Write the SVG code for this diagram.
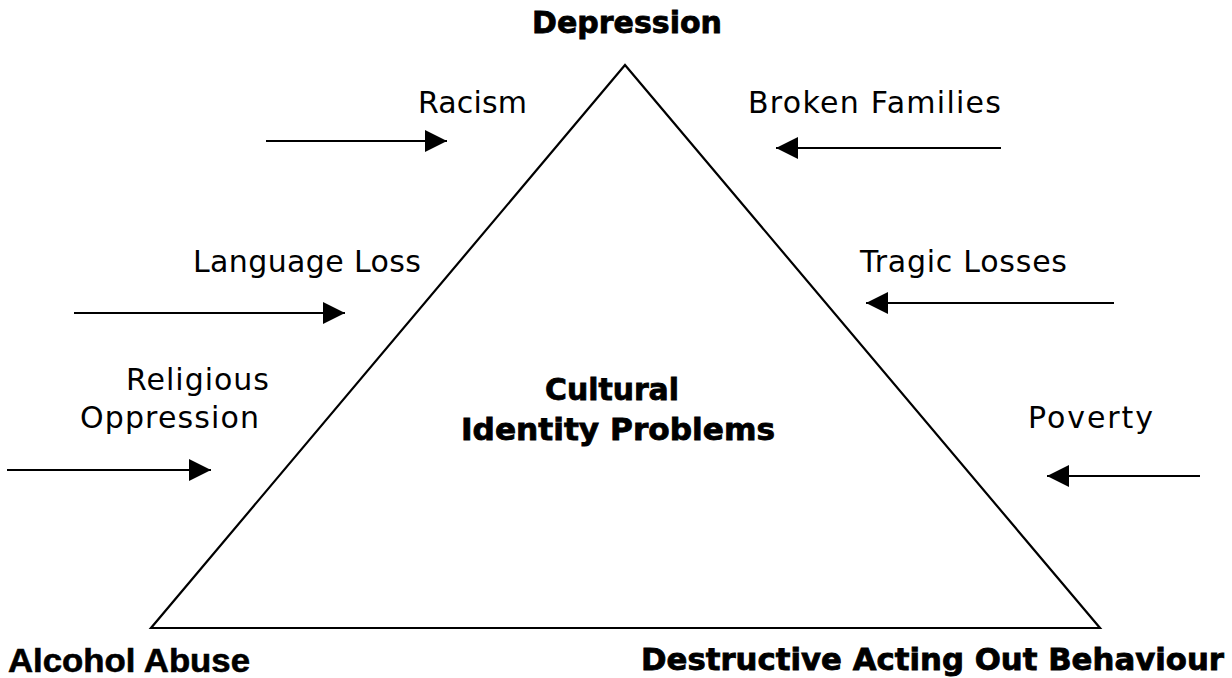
<svg xmlns="http://www.w3.org/2000/svg" width="1232" height="678" viewBox="0 0 1232 678">
  <style>
    .lbl { font-family: "DejaVu Sans", Verdana, sans-serif; font-size: 30px; fill: #000; }
    .head { font-family: "DejaVu Sans", Verdana, sans-serif; font-size: 30px; font-weight: bold; fill: #000; stroke: #000; stroke-width: 0.8; }
    .head2 { font-family: "Liberation Sans", Arial, sans-serif; font-size: 34px; font-weight: bold; fill: #000; stroke: #000; stroke-width: 0.6; }
    .edge { stroke: #000; stroke-width: 2; fill: none; }
  </style>
  <defs>
    <marker id="arrow" markerUnits="userSpaceOnUse" markerWidth="24" markerHeight="24" viewBox="0 0 24 24" refX="22" refY="12" orient="auto">
      <path d="M0,1 L22,12 L0,23 Z" fill="#000"/>
    </marker>
  </defs>

  <rect width="1232" height="678" fill="#fff"/>

  <!-- central triangle -->
  <g id="triangle">
    <polygon points="625,65 151,628 1100,628" fill="none" stroke="#000" stroke-width="2.2"/>
    <text class="head" x="545" y="400" textLength="134" lengthAdjust="spacingAndGlyphs">Cultural</text>
    <text class="head" x="461" y="440" font-size="31" textLength="314" lengthAdjust="spacingAndGlyphs">Identity Problems</text>
  </g>

  <!-- corners -->
  <g id="depression"><text class="head" x="532" y="33" textLength="190" lengthAdjust="spacingAndGlyphs">Depression</text></g>
  <g id="alcohol-abuse"><text class="head2" x="8" y="672" textLength="242" lengthAdjust="spacingAndGlyphs">Alcohol Abuse</text></g>
  <g id="destructive"><text class="head" x="641" y="670" font-size="31" textLength="583" lengthAdjust="spacingAndGlyphs">Destructive Acting Out Behaviour</text></g>

  <!-- pressures -->
  <g id="racism"><text class="lbl" x="418" y="113" textLength="109" lengthAdjust="spacing">Racism</text></g>
  <g id="language-loss"><text class="lbl" x="193" y="272" textLength="228" lengthAdjust="spacing">Language Loss</text></g>
  <g id="religious-oppression">
    <text class="lbl" x="126" y="390" textLength="143" lengthAdjust="spacing">Religious</text>
    <text class="lbl" x="80" y="428" textLength="179" lengthAdjust="spacing">Oppression</text>
  </g>
  <g id="broken-families"><text class="lbl" x="748" y="113" textLength="253" lengthAdjust="spacing">Broken Families</text></g>
  <g id="tragic-losses"><text class="lbl" x="860" y="272" textLength="207" lengthAdjust="spacing">Tragic Losses</text></g>
  <g id="poverty"><text class="lbl" x="1028" y="428" textLength="125" lengthAdjust="spacing">Poverty</text></g>

  <!-- arrows -->
  <g id="connectors">
    <line class="edge" x1="266" y1="141" x2="447" y2="141" marker-end="url(#arrow)"/>
    <line class="edge" x1="74" y1="313" x2="345" y2="313" marker-end="url(#arrow)"/>
    <line class="edge" x1="7" y1="470" x2="211" y2="470" marker-end="url(#arrow)"/>
    <line class="edge" x1="1001" y1="148" x2="776" y2="148" marker-end="url(#arrow)"/>
    <line class="edge" x1="1114" y1="303" x2="866" y2="303" marker-end="url(#arrow)"/>
    <line class="edge" x1="1200" y1="476" x2="1047" y2="476" marker-end="url(#arrow)"/>
  </g>
</svg>
